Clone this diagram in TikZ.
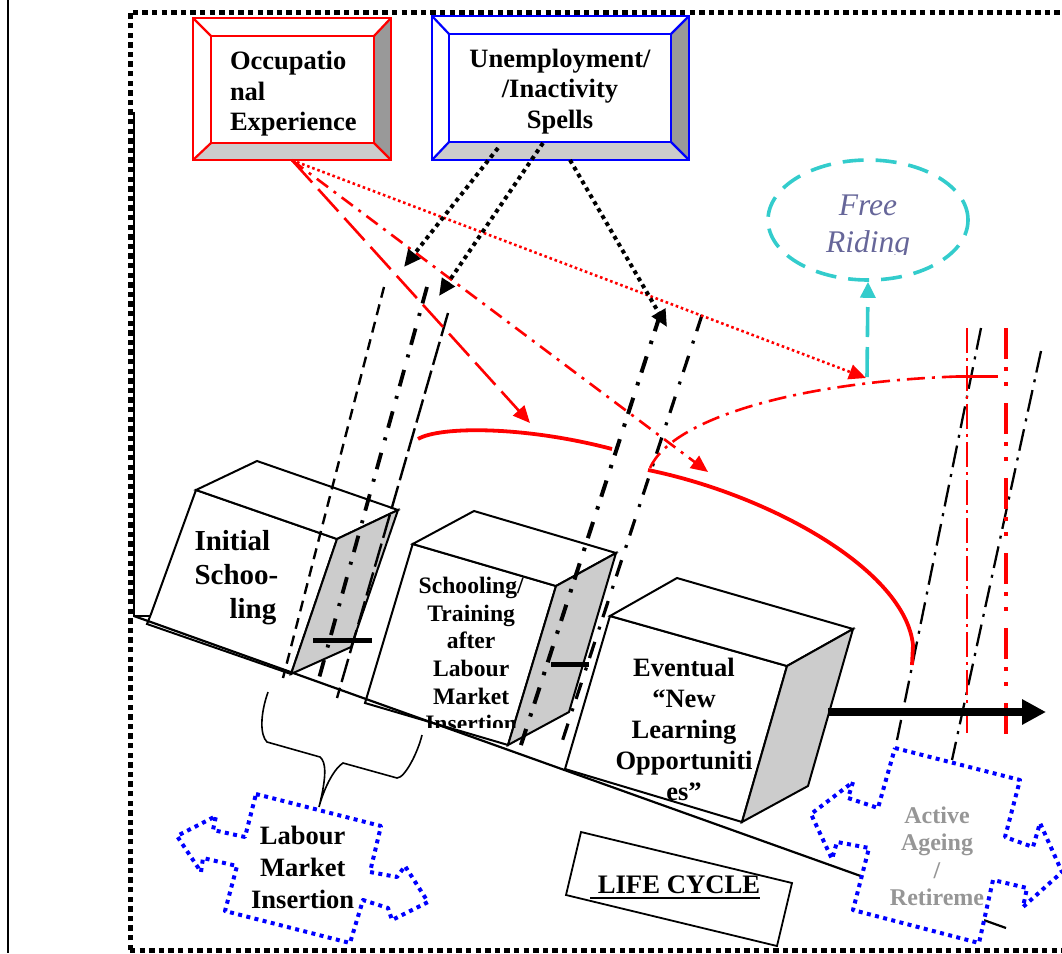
\documentclass[tikz,border=0pt]{standalone}
\usepackage{fontspec}
\setmainfont{Liberation Serif}
\usetikzlibrary{arrows.meta,shapes.geometric}
\definecolor{cyanline}{HTML}{33CCCC}
\definecolor{riding}{HTML}{666699}
\definecolor{facegray}{HTML}{CCCCCC}
\definecolor{darkface}{HTML}{999999}
\definecolor{activegray}{HTML}{969696}
\tikzset{
  x=1pt,y=-1pt,
  frameline/.style={line width=5pt,dash pattern=on 5.4pt off 4.2pt},
  boxline/.style={line width=2pt,draw=black,line join=miter},
  bevelred/.style={line width=2.2pt,draw=red},
  bevelblue/.style={line width=2.2pt,draw=blue},
  label/.style={inner sep=0pt,outer sep=0pt,font=\bfseries},
  blk/.style={draw=black,-{Triangle[length=17pt,width=15pt]},line width=4pt,dash pattern=on 4pt off 4pt},
  redtip/.style={draw=red,-{Triangle[length=17pt,width=15pt]},line width=2.6pt},
  blueshape/.style={draw=blue,fill=white,line width=4pt,dash pattern=on 4pt off 4.4pt,line join=round},
  thindash/.style={line width=2.3pt,dash pattern=on 22pt off 7pt on 3pt off 8pt},
  bar/.style={line width=5pt,draw=black},
}
\begin{document}
\begin{tikzpicture}
\useasboundingbox (0,0) rectangle (1062,953);
% frame and side rules
\draw[line width=1.6pt] (8,0) -- (8,953);
\draw[frameline] (130,950) -- (130,12) -- (1062,12);
\draw[frameline] (130,950) -- (1062,950);
\draw[line width=2.4pt] (134,112) -- (134,616) -- (153,616);

% red box
\node[draw=none,minimum width=198pt,minimum height=142pt,inner sep=0pt] (redbox) at (292,89) {};
\fill[darkface] (374,36) -- (391,18) -- (391,160) -- (374,143) -- cycle;
\fill[facegray] (211,143) -- (374,143) -- (391,160) -- (193,160) -- cycle;
\draw[bevelred] (193,18) rectangle (391,160);
\draw[bevelred] (211,36) rectangle (374,143);
\draw[bevelred] (193,18) -- (211,36) (391,18) -- (374,36) (193,160) -- (211,143) (391,160) -- (374,143);
\node[label,anchor=west,align=left,font=\bfseries\fontsize{26.5}{30.5}\selectfont] (redtext) at (230,94) {Occupatio\\nal\\Experience};

% blue box
\node[draw=none,minimum width=257pt,minimum height=144pt,inner sep=0pt] (bluebox) at (560.5,88) {};
\fill[darkface] (671,34) -- (689,16) -- (689,160) -- (671,142) -- cycle;
\fill[facegray] (449,142) -- (671,142) -- (689,160) -- (432,160) -- cycle;
\draw[bevelblue] (432,16) rectangle (689,160);
\draw[bevelblue] (449,34) rectangle (671,142);
\draw[bevelblue] (432,16) -- (449,34) (689,16) -- (671,34) (432,160) -- (449,142) (689,160) -- (671,142);
\node[label,align=center,font=\bfseries\fontsize{26.5}{30.5}\selectfont] (bluetext) at (560,91.5) {Unemployment/\\/Inactivity\\Spells};

% box 1
\draw[boxline,fill=white] (196,490) -- (337,539) -- (291,674) -- (147,624) -- (151,614) -- cycle;
\draw[boxline,fill=white] (196,490) -- (257,461) -- (398,510) -- (337,539) -- cycle;
\draw[boxline,fill=facegray] (337,539) -- (398,510) -- (351,647) -- (291,674) -- cycle;
\node[label,anchor=west,align=left,font=\bfseries\fontsize{29}{34}\selectfont] (t1) at (194.5,578) {Initial\\Schoo-\\\hspace*{35pt}ling};

% box 2
\draw[boxline,fill=white] (412.7,544) -- (556,586) -- (508,745) -- (365,703) -- cycle;
\draw[boxline,fill=white] (412.7,544) -- (474,511) -- (616,553) -- (556,586) -- cycle;
\draw[boxline,fill=facegray] (556,586) -- (616,553) -- (569,712) -- (508,745) -- cycle;
\begin{scope}
\clip (360,560) rectangle (560,727);
\node[label,align=center,font=\bfseries\fontsize{23.6}{27.7}\selectfont] (t2) at (471.2,654.5) {Schooling/\\Training\\after\\Labour\\Market\\Insertion};
\end{scope}

% box 3
\draw[boxline,fill=white] (610,616) -- (787,666) -- (742,822) -- (565,769) -- cycle;
\draw[boxline,fill=white] (610,616) -- (677,578) -- (853,629) -- (787,666) -- cycle;
\draw[boxline,fill=facegray] (787,666) -- (853,629) -- (808,786) -- (742,822) -- cycle;
\node[label,align=center,font=\bfseries\fontsize{26.5}{31}\selectfont] (t3) at (684,729.5) {Eventual\\“New\\Learning\\Opportuniti\\es”};

% base line
\coordinate (baseA) at (134,616);
\coordinate (baseB) at (1006,928);
\draw[line width=2.2pt] (baseA) -- (baseB);

% parallel verticals
\coordinate (a1) at (384,287); \coordinate (a2) at (283,678);
\coordinate (b1) at (427,287); \coordinate (b2) at (318,682);
\coordinate (c1) at (448,313); \coordinate (c2) at (337,698);
\coordinate (d1) at (660,315); \coordinate (d2) at (520,748);
\coordinate (e1) at (702,315); \coordinate (e2) at (560,748);
\coordinate (f1) at (981,328); \coordinate (f2) at (897,740);
\coordinate (g1) at (1041,351); \coordinate (g2) at (952,760);
\draw[line width=2.4pt,dash pattern=on 11pt off 7pt] (a1) -- (a2);
\draw[line width=3.8pt,dash pattern=on 17pt off 10pt on 3pt off 13pt] (b1) -- (b2);
\draw[line width=2.4pt,dash pattern=on 24pt off 6pt] (c1) -- (c2);
\draw[line width=4pt,dash pattern=on 17pt off 10pt on 3.5pt off 13pt] (d1) -- (d2);
\draw[line width=3.2pt,dash pattern=on 17pt off 10pt on 3pt off 13pt] (e1) -- (e2);
\draw[thindash] (f1) -- (f2);
\draw[thindash] (g1) -- (g2);

% bars
\coordinate (bar1a) at (313,640); \coordinate (bar1b) at (372,640);
\coordinate (bar2a) at (551,664); \coordinate (bar2b) at (589,664);
\draw[bar] (bar1a) -- (bar1b);
\draw[bar] (bar2a) -- (bar2b);

% red verticals
\coordinate (r1) at (967,328); \coordinate (r2) at (967,737);
\coordinate (s1) at (1006,328); \coordinate (s2) at (1006,736);
\draw[red,line width=2.6pt,dash pattern=on 25pt off 5pt on 3pt off 5pt] (r1) -- (r2);
\draw[red,line width=3.8pt,dash pattern=on 31pt off 8pt on 4pt off 11pt on 4pt off 17pt] (s1) -- (s2);

% red curves
\draw[red,line width=3.8pt] (418,439) .. controls (440,426) and (525,426) .. (612,449);
\draw[red,line width=3.8pt] (648,470) .. controls (770,495) and (905,570) .. (913,645) -- (912,665);
\coordinate (crv0) at (650,468);
\coordinate (crvE) at (957,376.5);
\coordinate (solE) at (998,376.5);
\draw[red,line width=2.6pt,dash pattern=on 18pt off 7pt on 3pt off 7pt] (crv0) .. controls (672,418) and (800,382) .. (crvE);
\draw[red,line width=3.2pt] (crvE) -- (solE);

% thick arrow
\coordinate (arrS) at (828,712);
\coordinate (arrE) at (1046,712);
\draw[line width=8pt,-{Triangle[length=24pt,width=24pt]}] (arrS) -- (arrE);

% life cycle
\draw[line width=1.8pt,fill=white] (581,832) -- (792,883) -- (777,946) -- (566,895) -- cycle;
\node[label,anchor=base,font=\bfseries\fontsize{26.7}{32}\selectfont] (life) at (679,893) {LIFE CYCLE};
\coordinate (ulA) at (590,898); \coordinate (ulB) at (760,898);
\draw[line width=2.5pt] (ulA) -- (ulB);

% labour shape
\draw[line width=1.6pt] (268,692) .. controls (260,715) and (260,735) .. (267,742) -- (320,757) .. controls (326,762) and (327,775) .. (319,807) .. controls (325,785) and (335,768) .. (343,763) -- (397,778) .. controls (405,778) and (418,752) .. (422,735);
\draw[blueshape] (256,794) -- (381,826) -- (370,872) -- (397,877) -- (405,866) -- (428,902) -- (392,920) -- (388,908) -- (363,900) -- (350,943) -- (225,911) -- (237,866) -- (203,858) -- (201,872) -- (177,836) -- (216,816) -- (213,830) -- (245,837) -- cycle;
\node[label,align=center,font=\bfseries\fontsize{26.5}{32}\selectfont] (labour) at (302.7,867) {Labour\\Market\\Insertion};

% active shape
\draw[blueshape] (895,748) -- (1020,780) -- (1005,837) -- (1033,847) -- (1040,823) -- (1062,872) -- (1023,907) -- (1027,888) -- (993,880) -- (979,943) -- (853,910) -- (869,848) -- (837,842) -- (832,859) -- (811,814) -- (853,782) -- (848,798) -- (878,808) -- cycle;
\node[label,align=center,text=activegray,font=\bfseries\fontsize{24}{27.5}\selectfont] (active) at (937,856.5) {Active\\Ageing\\/\\Retireme};

% free riding
\node[ellipse,draw=cyanline,line width=3.6pt,dash pattern=on 21pt off 12pt,minimum width=200pt,minimum height=120pt,inner sep=0pt] (free) at (868,220) {};
\begin{scope}
\clip (780,170) rectangle (960,254);
\node[inner sep=0pt,text=riding,align=center,font=\itshape\fontsize{31.5}{36.5}\selectfont] (ridetext) at (868,227) {Free\\Riding};
\end{scope}
\coordinate (cy0) at (867,377);
\draw[draw=cyanline,line width=3.6pt,dash pattern=on 30pt off 10pt,-{Triangle[length=16pt,width=15pt]}] (cy0) -- (free.south);

% red arrows
\coordinate (rs) at (redbox.south);
\coordinate (rt1) at (530,423);
\coordinate (rt2) at (708,472);
\coordinate (rt3) at (866,378);
\draw[redtip,dash pattern=on 30pt off 9pt] (rs) -- (rt1);
\draw[redtip,dash pattern=on 14pt off 7pt on 3pt off 7pt] (rs) -- (rt2);
\draw[redtip,dash pattern=on 2.6pt off 2.8pt] (rs) -- (rt3);

% black arrows
\coordinate (k1) at (498,148); \coordinate (kt1) at (404,267);
\coordinate (k2) at (543,143); \coordinate (kt2) at (439,296);
\coordinate (k3) at (570,160); \coordinate (kt3) at (667,327);
\draw[blk] (k1) -- (kt1);
\draw[blk] (k2) -- (kt2);
\draw[blk] (k3) -- (kt3);
\end{tikzpicture}
\end{document}
